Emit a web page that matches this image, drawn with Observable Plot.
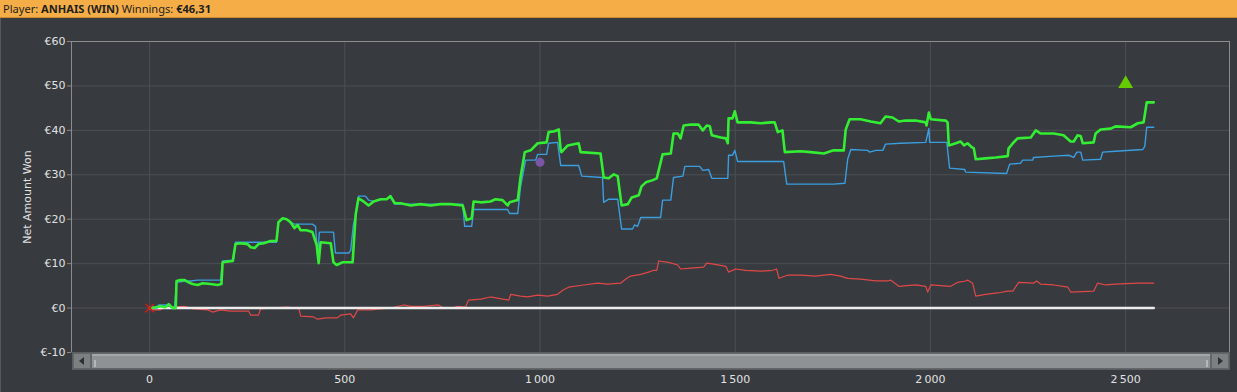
<!DOCTYPE html>
<html>
<head>
<meta charset="utf-8">
<script src="https://cdn.jsdelivr.net/npm/d3@7"></script>
<script src="https://cdn.jsdelivr.net/npm/@observablehq/plot@0.6"></script>
<style>
  html, body { margin: 0; padding: 0; background: #373a3e; }
  body { width: 1237px; height: 392px; overflow: hidden; position: relative; font-family: "DejaVu Sans", sans-serif; }
  #header { height: 18px; background: #f5ae47; border-bottom: 1px solid #c98b33; box-sizing: border-box;
    font-family: "Noto Sans", sans-serif; font-size: 12px; line-height: 17px; color: #1e1e1e; padding-left: 3px; white-space: nowrap; }
  #header b { font-weight: bold; }
  #htext { display: inline-block; }
  #chart { position: absolute; left: 0; top: 18px; }
  #edge { position: absolute; left: 0; top: 18px; width: 1px; height: 374px; background: #55595d; }
  #scroll { position: absolute; left: 72px; top: 352px; width: 1158px; height: 18px; background: #63676a; box-sizing: border-box; border: 1px solid #5a5e61; }
  #scroll .btn { position: absolute; top: 1px; width: 16px; height: 14px; background: #7c8083; }
  #scroll .btn.l { left: 1px; }
  #scroll .btn.r { right: 1px; }
  #scroll .thumb { position: absolute; left: 19px; right: 19px; top: 1px; height: 14px; background: #8e9295; border-top: 2px solid #a3a7aa; box-sizing: border-box; }
  #scroll .grip { position: absolute; top: 4px; width: 2px; height: 7px; background: #b4b8bb; }
  .arrow-l { position: absolute; left: 5px; top: 3px; width: 0; height: 0; border-top: 4px solid transparent; border-bottom: 4px solid transparent; border-right: 5px solid #2e3134; }
  .arrow-r { position: absolute; left: 6px; top: 3px; width: 0; height: 0; border-top: 4px solid transparent; border-bottom: 4px solid transparent; border-left: 5px solid #2e3134; }
</style>
</head>
<body>
<div id="header"><span id="htext">Player: <b>ANHAIS (WIN)</b> Winnings: <b>€46,31</b></span></div>
<div id="edge"></div>
<div id="chart"></div>
<div id="scroll">
  <div class="btn l"><div class="arrow-l"></div></div>
  <div class="thumb"><div class="grip" style="left:2px"></div><div class="grip" style="right:2px"></div></div>
  <div class="btn r"><div class="arrow-r"></div></div>
</div>
<script>
// ---- Data (hand number, net amount won in €) ----
const greenHands = [0,15,28,41,49,59,67,69,79,90,100,110,123,136,156,174,184,187,213,220,233,251,259,269,279,292,310,325,330,341,351,361,371,379,387,402,417,428,433,438,464,471,479,494,520,528,535,548,561,574,592,607,617,628,643,669,694,720,745,771,802,812,825,830,848,873,886,904,917,922,943,950,961,976,994,1017,1022,1037,1048,1053,1055,1071,1099,1104,1155,1163,1176,1189,1199,1209,1225,1235,1253,1260,1271,1289,1299,1304,1314,1335,1342,1353,1360,1368,1386,1406,1417,1427,1435,1440,1463,1476,1481,1483,1493,1499,1506,1540,1565,1591,1601,1609,1621,1627,1668,1693,1727,1752,1778,1783,1793,1821,1847,1872,1885,1903,1919,1936,1962,1988,1990,1996,2001,2039,2044,2047,2065,2077,2086,2095,2106,2111,2116,2141,2167,2198,2200,2211,2223,2257,2270,2282,2316,2341,2359,2367,2377,2385,2390,2418,2423,2436,2462,2474,2513,2531,2546,2554,2572];
const greenValues = [0,0.2,0.4,0.2,0.9,0,0,6.1,6.3,6.3,5.8,5.4,5.2,5.6,5.4,5.2,5.4,10.3,10.6,14.4,14.6,14.4,13.7,13.5,14.4,14.6,15.1,15.1,19.3,20.2,20,19.3,18,18.7,17.5,17.5,17.1,14.2,10.1,14.8,14.6,10.3,9.7,10.3,10.3,21.1,24.7,24,23.1,24,24.5,24.5,25.2,23.6,23.6,23.1,23.4,23.1,23.4,23.4,23.1,19.8,20.2,24,23.8,24,24.5,24.3,23.1,23.8,24.3,29.4,35.1,35.5,37.1,37.3,39.6,39.8,40.2,35.5,35.1,36.6,37.1,35.1,34.8,29.4,29.2,30.1,29.7,23.1,23.4,24.9,25.4,27.4,28.3,28.8,29.2,31,34.6,34.8,39.3,39.3,38.2,41.1,41.3,41.3,40,41.1,40.9,38.9,38.4,38.2,37.1,42.7,42.7,44.3,41.8,41.8,41.6,41.8,41.8,39.6,40,35.1,35.3,35.1,34.8,35.5,35.5,40.2,42.5,42.5,42,41.6,43.1,42.9,42,42.2,42.2,41.8,41.1,44,42.5,42.2,41.8,36.6,37.1,37.5,36.6,37.1,36.2,36,33.5,33.7,33.9,34.2,35.9,37.1,38.2,38.4,40,39.3,39.3,38.9,37.5,37.5,38.9,38.7,37.1,37.3,39.3,40.2,40.4,40.9,40.7,41.6,41.8,46.3,46.3];

const blueHands = [0,20,23,49,54,64,69,92,105,123,182,187,215,220,325,330,341,351,361,371,417,425,430,435,471,476,510,515,522,528,535,553,561,574,592,607,617,628,802,807,825,830,917,922,943,950,963,989,994,1017,1022,1045,1053,1099,1107,1160,1163,1176,1199,1209,1237,1242,1250,1258,1309,1314,1335,1342,1366,1371,1409,1417,1432,1440,1481,1483,1493,1499,1506,1624,1632,1752,1781,1788,1796,1839,1844,1860,1878,1885,1924,1988,1996,1998,2042,2049,2088,2090,2195,2203,2231,2236,2262,2264,2316,2354,2367,2375,2385,2390,2436,2441,2474,2544,2549,2554,2572];
const blueValues = [0,0,0.7,0.7,0.2,0.2,5.8,6.1,6.1,6.3,6.3,10.6,10.8,14.8,14.8,19.3,20.2,20,19.3,18.9,18.9,18.4,11.9,17.1,17.1,12.4,12.4,13,18.7,21.1,25.2,25.2,24.3,24,24.5,24.5,24.9,23.4,23.4,18.4,18.4,22.2,22.2,21.3,21.3,27.2,33.3,33.3,34.6,34.6,37.1,37.3,32.1,32.1,29.7,29.4,23.8,24.5,24.5,17.8,17.8,18.7,18.4,20.4,20.4,24.3,24.3,29.4,29.7,31.9,31.9,31,31.2,29.2,29.2,34.4,34.4,35.5,33,33,27.9,27.9,28.1,33.5,35.7,35.5,35.1,35.5,35.5,36.9,37.1,37.3,40.4,37.3,37.3,31.5,31.2,30.6,30.3,32.4,32.6,33.3,33.3,33.9,34.2,34.4,33.9,35.1,35.1,33.3,33.5,35.1,35.3,35.7,36.4,40.7,40.7];

const redHands = [0,8,28,36,61,87,97,113,149,161,182,207,233,254,259,279,284,310,353,374,382,387,420,430,451,481,489,515,522,533,566,592,617,651,669,702,740,753,776,789,809,817,848,873,894,920,925,950,968,994,1020,1045,1058,1073,1112,1148,1173,1206,1219,1232,1258,1278,1291,1299,1304,1330,1353,1360,1386,1419,1427,1445,1476,1483,1501,1527,1565,1596,1606,1612,1634,1668,1706,1744,1770,1788,1821,1860,1890,1898,1919,1962,1988,1993,2001,2052,2070,2090,2095,2108,2116,2141,2172,2198,2211,2226,2264,2272,2282,2316,2352,2359,2418,2428,2449,2474,2531,2572];
const redValues = [0,-0.4,-0.4,0.2,0.2,0.4,0.2,-0.2,-0.4,-0.9,-0.4,-0.7,-0.7,-0.7,-1.6,-1.6,-0.2,0,0.2,0,0,-1.8,-2,-2.5,-2.2,-2.2,-1.6,-1.3,-2.2,-0.4,-0.4,-0.2,0,0.7,0.4,0.4,0.7,0,0,0.4,0.2,1.8,2,2.5,2.2,1.8,3.1,2.7,2.5,2.9,2.7,3.1,4,4.7,5.2,5.6,5.4,5.6,6.5,7.2,7.6,8.1,8.5,8.5,10.6,10.3,9.7,8.8,9,9.2,10.1,9.9,9.4,8.1,8.8,8.5,8.3,8.5,8.8,6.7,7.4,7.4,7.2,7.6,7.2,6.7,6.5,6.1,6.1,6.3,4.9,5.2,4.9,3.6,5.2,4.9,5.8,6.1,6.3,5.6,2.7,3.1,3.4,3.8,3.8,5.8,5.6,6.1,5.4,5.2,4.7,3.6,3.8,5.6,5.2,5.4,5.6,5.6];

const baseHands = [0, 2572];
const baseValues = [0, 0];

const markerStart = [{hand: 0, value: 0}];
const markerPurple = [{hand: 1000, value: 32.8}];
const markerTriangle = [{hand: 2500, value: 50.5}];

const xTicks = [0, 500, 1000, 1500, 2000, 2500];
const yTicks = [-10, 0, 10, 20, 30, 40, 50, 60];

// fit header text to the reference width (~208px)
(function fitHeader() {
  const el = document.getElementById("htext");
  const header = document.getElementById("header");
  const w = el.getBoundingClientRect().width;
  if (w > 0) header.style.fontSize = (12 * 208 / w).toFixed(2) + "px";
})();

const toRows = (xs, ys) => xs.map((h, i) => ({hand: h, value: ys[i]}));
const green = toRows(greenHands, greenValues);
const blue = toRows(blueHands, blueValues);
const red = toRows(redHands, redValues);
const base = toRows(baseHands, baseValues);

const fmtX = d => d3.format(",")(d).replace(/,/g, "\u2009");
const fmtY = d => "€" + d;

const chart = Plot.plot({
  width: 1237,
  height: 374,
  marginTop: 23,
  marginLeft: 71,
  marginRight: 8,
  marginBottom: 40,
  style: {background: "transparent", color: "#e2e2e2", fontFamily: "DejaVu Sans, sans-serif", fontSize: "11px"},
  x: {domain: [-200, 2766]},
  y: {domain: [-10, 60]},
  marks: [
    Plot.gridX(xTicks, {stroke: "#4c4f53", strokeOpacity: 1}),
    Plot.gridY(yTicks, {stroke: "#4c4f53", strokeOpacity: 1}),
    Plot.axisY(yTicks, {tickFormat: fmtY, tickSize: 4, tickPadding: 2, stroke: "#8a8a8a", fontSize: 11,
      label: "Net Amount Won", labelAnchor: "center", labelArrow: "none", labelOffset: 48}),
    Plot.axisX(xTicks, {tickFormat: fmtX, tickSize: 0, tickPadding: 23, fontSize: 11, label: null}),
    Plot.ruleY([60], {stroke: "#8c8c8c"}),
    Plot.ruleX([-200], {stroke: "#8c8c8c"}),
    Plot.ruleX([2766], {stroke: "#8c8c8c"}),
    Plot.line(red, {x: "hand", y: "value", stroke: "#e04848", strokeWidth: 1.2}),
    Plot.line(base, {x: "hand", y: "value", stroke: "#ececec", strokeWidth: 2.5}),
    Plot.line(blue, {x: "hand", y: "value", stroke: "#3a9ee0", strokeWidth: 1.4}),
    Plot.line(green, {x: "hand", y: "value", stroke: "#33ee33", strokeWidth: 2.6, strokeLinejoin: "round"}),
    Plot.dot(markerStart, {x: "hand", y: "value", symbol: "times", stroke: "#cc1a1a", r: 4, strokeWidth: 1.6}),
    Plot.dot(markerPurple, {x: "hand", y: "value", fill: "#7b55a8", r: 4.5}),
    Plot.dot(markerTriangle, {x: "hand", y: "value", symbol: "triangle", fill: "#66cc00", r: 5.5})
  ]
});
document.getElementById("chart").appendChild(chart);
</script>
</body>
</html>
